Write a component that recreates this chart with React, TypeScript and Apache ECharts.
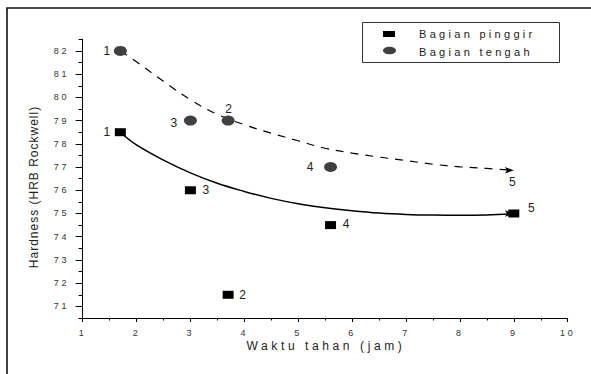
import React, { useEffect, useRef } from "react";
import * as echarts from "echarts";

const pointLabels = ["1", "2", "3", "4", "5"];
const pinggirX = [1.7, 3.7, 3.0, 5.6, 9.0];
const pinggirY = [78.5, 71.5, 76.0, 74.5, 75.0];
const tengahX = [1.7, 3.7, 3.0, 5.6, 9.0];
const tengahY = [82.0, 79.0, 79.0, 77.0, 76.85];

const fitX = [1.7, 2.0, 2.5, 3.0, 3.5, 4.0, 4.5, 5.0, 5.5, 6.0, 6.5, 7.0, 7.5, 8.0, 8.5, 9.0];
const fitPinggir = [78.5, 77.95, 77.3, 76.75, 76.3, 75.95, 75.65, 75.42, 75.25, 75.12, 75.02, 74.96, 74.93, 74.92, 74.94, 75.0];
const fitTengah = [82.0, 81.53, 80.69, 79.9, 79.27, 78.82, 78.46, 78.13, 77.81, 77.6, 77.43, 77.28, 77.12, 77.01, 76.94, 76.86];

const yTickValues = [71, 72, 73, 74, 75, 76, 77, 78, 79, 80, 81, 82];
const yMinorValues = [70.5, 71.5, 72.5, 73.5, 74.5, 75.5, 76.5, 77.5, 78.5, 79.5, 80.5, 81.5, 82.5];

const legendNames = ["Bagian pinggir", "Bagian tengah"];
const xTitle = "Waktu tahan (jam)";
const yTitle = "Hardness (HRB Rockwell)";

const pinggirLabelOffsets = [[-13, 0], [15, 0], [16, 0], [16, -1], [18, -5]];
const tengahLabelOffsets = [[-13, 0], [1, -12], [-16, 2], [-20, 0], [-1, 11]];

export default function App() {
  const ref = useRef<HTMLDivElement>(null);
  useEffect(() => {
    if (!ref.current) return;
    const chart = echarts.init(ref.current, undefined, { renderer: "svg" });
    const labelStyle = { fontFamily: "Liberation Sans", fontSize: 12, color: "#222" };
    const option: any = {
      animation: false,
      backgroundColor: "#fff",
      grid: { left: 82.6, right: 23.3, top: 39.3, bottom: 56 },
      xAxis: {
        type: "value",
        min: 1,
        max: 10,
        interval: 1,
        axisLine: { show: true, onZero: false, lineStyle: { color: "#000", width: 1 } },
        axisTick: { show: true, length: 4, lineStyle: { color: "#000" } },
        minorTick: { show: true, splitNumber: 2, length: 2.5, lineStyle: { color: "#000" } },
        axisLabel: { fontFamily: "Arial", fontSize: 9, color: "#333", margin: 10 },
        splitLine: { show: false },
      },
      yAxis: [
        {
          type: "value",
          min: 70.5,
          max: 82.5,
          axisLine: { show: true, onZero: false, lineStyle: { color: "#000", width: 1 } },
          axisTick: { show: true, length: 7, customValues: yTickValues, lineStyle: { color: "#000" } },
          axisLabel: { fontFamily: "Arial", fontSize: 9, color: "#333", margin: 13.5, customValues: yTickValues },
          splitLine: { show: false },
        },
        {
          type: "value",
          min: 70.5,
          max: 82.5,
          position: "left",
          axisLine: { show: false },
          axisTick: { show: true, length: 4, customValues: yMinorValues, lineStyle: { color: "#000" } },
          axisLabel: { show: false },
          splitLine: { show: false },
        },
      ],
      graphic: [
        {
          type: "rect",
          silent: true,
          z: -1,
          shape: { x: 7, y: 8, width: 700, height: 500 },
          style: { fill: "none", stroke: "#111", lineWidth: 1.6 },
        },
        {
          type: "rect",
          shape: { x: 362.5, y: 22.5, width: 197, height: 40 },
          style: { fill: "#fff", stroke: "#333", lineWidth: 1 },
        },
        { type: "rect", shape: { x: 383, y: 31, width: 12, height: 6 }, style: { fill: "#000" } },
        { type: "ellipse", shape: { cx: 389.5, cy: 50.5, rx: 6.5, ry: 3.8 }, style: { fill: "#404040" } },
        {
          type: "text",
          x: 419,
          y: 34,
          style: { text: legendNames[0], fontFamily: "Arial", fontSize: 11, fill: "#222", verticalAlign: "middle" },
        },
        {
          type: "text",
          x: 419,
          y: 51.5,
          style: { text: legendNames[1], fontFamily: "Arial", fontSize: 11, fill: "#222", verticalAlign: "middle" },
        },
        {
          type: "text",
          x: 326,
          y: 346,
          style: { text: xTitle, fontFamily: "Arial", fontSize: 12, fill: "#222", align: "center", verticalAlign: "middle" },
        },
        {
          type: "text",
          x: 34,
          y: 187,
          rotation: Math.PI / 2,
          style: { text: yTitle, fontFamily: "Liberation Sans", fontSize: 12, fill: "#222", align: "center", verticalAlign: "middle" },
        },
      ],
      series: [
        {
          type: "line",
          smooth: 0.4,
          symbol: "none",
          showSymbol: true,
          lineStyle: { color: "#000", width: 1.5 },
          itemStyle: { color: "#000" },
          z: 2,
          data: fitX.map((x, i) =>
            i === fitX.length - 1
              ? { value: [x, fitPinggir[i]], symbol: "arrow", symbolSize: [5, 9], symbolRotate: -90 }
              : [x, fitPinggir[i]]
          ),
        },
        {
          type: "line",
          smooth: 0.4,
          symbol: "none",
          showSymbol: true,
          lineStyle: { color: "#000", width: 1.2, type: [8, 7] },
          itemStyle: { color: "#000" },
          z: 2,
          data: fitX.map((x, i) =>
            i === fitX.length - 1
              ? { value: [x, fitTengah[i]], symbol: "arrow", symbolSize: [5, 9], symbolRotate: -90 }
              : [x, fitTengah[i]]
          ),
        },
        {
          type: "scatter",
          symbol: "rect",
          symbolSize: [11, 8],
          itemStyle: { color: "#000", opacity: 1 },
          z: 3,
          data: pinggirX.map((x, i) => ({
            value: [x, pinggirY[i]],
            label: { show: true, position: "inside", offset: pinggirLabelOffsets[i], formatter: pointLabels[i], ...labelStyle },
          })),
        },
        {
          type: "scatter",
          symbol: "circle",
          symbolSize: [13, 10],
          itemStyle: { color: "#404040", opacity: 1 },
          z: 3,
          data: tengahX.map((x, i) => ({
            value: [x, tengahY[i]],
            itemStyle: i === 4 ? { color: "rgba(0,0,0,0)", opacity: 0 } : undefined,
            label: { show: true, position: "inside", offset: tengahLabelOffsets[i], formatter: pointLabels[i], opacity: 1, ...labelStyle },
          })),
        },
      ],
    };
    chart.setOption(option);
    return () => chart.dispose();
  }, []);
  return (
    <>
      <style>{`
        .chartbox text[style*="Arial"] { letter-spacing: 0.3em; }
        .chartbox text[style*="Liberation"] { letter-spacing: 1px; }
      `}</style>
      <div
        className="chartbox"
        ref={ref}
        style={{ position: "absolute", left: 0, top: 0, width: 591, height: 374 }}
      />
    </>
  );
}
